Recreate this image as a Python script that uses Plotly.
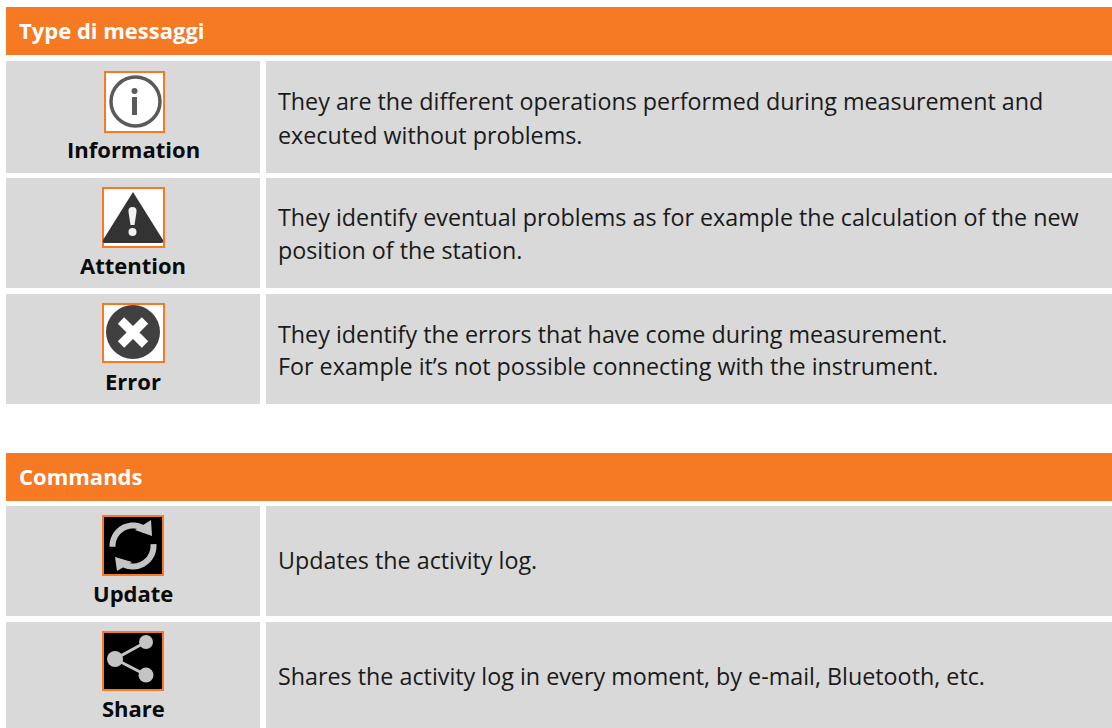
import math
import plotly.graph_objects as go

# ---- content ----
section_titles = ["Type di messaggi", "Commands"]
row_labels = ["Information", "Attention", "Error", "Update", "Share"]
row_text_1 = [
    "They are the different operations performed during measurement and",
    "They identify eventual problems as for example the calculation of the new",
    "They identify the errors that have come during measurement.",
    "Updates the activity log.",
    "Shares the activity log in every moment, by e-mail, Bluetooth, etc.",
]
row_text_2 = [
    "executed without problems.",
    "position of the station.",
    "For example it’s not possible connecting with the instrument.",
    "",
    "",
]

# ---- layout ----
ORANGE = "#F57A23"
GREY = "#D9D9D9"
ICON_GREY = "#C4C4C4"
FONT = "Open Sans"
BODY_SIZE = 23.3
BOLD_SIZE = 22
W, H = 1112, 728
headers = [(7, 55), (453, 501)]
rows = [(61, 173), (178, 288), (294, 404), (506, 616), (622, 728)]
icons = [(104, 165, 71, 133), (102, 165, 187, 248), (102, 165, 303, 363),
         (102, 164, 515, 576), (102, 164, 631, 691)]
icon_bg = ["#FFFFFF", "#FFFFFF", "#FFFFFF", "#000000", "#000000"]
label_y = [149, 265, 381, 593, 708]
line_y = [(101, 135), (217, 250), (334, 366), (560, None), (676, None)]

shapes, annots = [], []


def rect(x0, y0, x1, y1, fill, line=None, lw=0, layer="below"):
    shapes.append(dict(type="rect", x0=x0, y0=y0, x1=x1, y1=y1, fillcolor=fill,
                       line=dict(color=line or fill, width=lw), layer=layer))


def path(d, fill="rgba(0,0,0,0)", line=None, lw=0):
    shapes.append(dict(type="path", path=d, fillcolor=fill,
                       line=dict(color=line or "rgba(0,0,0,0)", width=lw)))


def circle(cx, cy, r, fill="rgba(0,0,0,0)", line=None, lw=0):
    shapes.append(dict(type="circle", x0=cx - r, x1=cx + r, y0=cy - r, y1=cy + r,
                       fillcolor=fill, line=dict(color=line or "rgba(0,0,0,0)", width=lw)))


def arc(cx, cy, r, a0, a1, n=24):
    pts = []
    for i in range(n + 1):
        a = math.radians(a0 + (a1 - a0) * i / n)
        pts.append((cx + r * math.cos(a), cy + r * math.sin(a)))
    return pts


def poly(pts):
    return "M " + " L ".join(f"{x:.2f},{y:.2f}" for x, y in pts)


def text(x, y, s, size, color, bold=False, anchor="left"):
    annots.append(dict(x=x, y=y, xref="x", yref="y", text=f"<b>{s}</b>" if bold else s,
                       showarrow=False, xanchor=anchor, yanchor="middle",
                       xshift=-2 if anchor == "left" else 0,
                       font=dict(family=FONT, size=size, color=color)))


for (y0, y1), title in zip(headers, section_titles):
    rect(6, y0, W, y1, ORANGE)
    text(19, (y0 + y1) / 2 - 1, title, BOLD_SIZE, "#FFFFFF", bold=True)

for i, (y0, y1) in enumerate(rows):
    rect(6, y0, 260, y1, GREY)
    rect(266, y0, W, y1, GREY)
    x0, x1, iy0, iy1 = icons[i]
    rect(x0 + 1, iy0 + 1, x1 - 1, iy1 - 1, icon_bg[i], ORANGE, 2)
    text(133, label_y[i], row_labels[i], BOLD_SIZE, "#0A0A0A", bold=True, anchor="center")
    text(278, line_y[i][0], row_text_1[i], BODY_SIZE, "#1A1A1A")
    if row_text_2[i]:
        text(278, line_y[i][1], row_text_2[i], BODY_SIZE, "#1A1A1A")

# information icon
circle(135.5, 101.5, 24.5, line="#5A5A5A", lw=3.5)
rect(132, 97, 137, 115, "#5A5A5A", layer="above")
circle(134.5, 91, 3, fill="#5A5A5A")

# attention icon
path("M 133,192 L 163,240 Q 164,243 161,243 L 105,243 Q 102,243 103,240 Z", fill="#333333")
path("M 128.5,212 Q 128,207 132.5,207 Q 137,207 136.5,212 L 134.5,225 L 130.5,225 Z", fill="#F2F2F2")
circle(132.5, 232, 4, fill="#F2F2F2")

# error icon
circle(133, 332, 27, fill="#404040")
path("M 121,320.5 L 145,344.5", line="#FFFFFF", lw=9)
path("M 145,320.5 L 121,344.5", line="#FFFFFF", lw=9)

# update icon
path(poly(arc(133, 546, 20.5, 178, 300)), line=ICON_GREY, lw=6)
path("M 151,520 L 152,536 L 135,530 Z", fill=ICON_GREY)
path(poly(arc(133, 546, 20.5, -5, 118)), line=ICON_GREY, lw=6)
path("M 117,571 L 115,557 L 132,562 Z", fill=ICON_GREY)

# share icon
path("M 146,642 L 115,659 L 146,675", line=ICON_GREY, lw=3)
circle(146, 642, 7, fill=ICON_GREY)
circle(115, 659, 8, fill=ICON_GREY)
circle(146, 675, 7.5, fill=ICON_GREY)

fig = go.Figure()
fig.update_layout(
    width=W, height=H, margin=dict(l=0, r=0, t=0, b=0),
    paper_bgcolor="#FFFFFF", plot_bgcolor="#FFFFFF",
    xaxis=dict(range=[0, W], visible=False, fixedrange=True),
    yaxis=dict(range=[H, 0], visible=False, fixedrange=True),
    shapes=shapes, annotations=annots, showlegend=False,
)
fig.write_html("out.html", config=dict(displayModeBar=False),
               post_script="document.body.style.margin='0';document.documentElement.style.overflow='hidden';")
